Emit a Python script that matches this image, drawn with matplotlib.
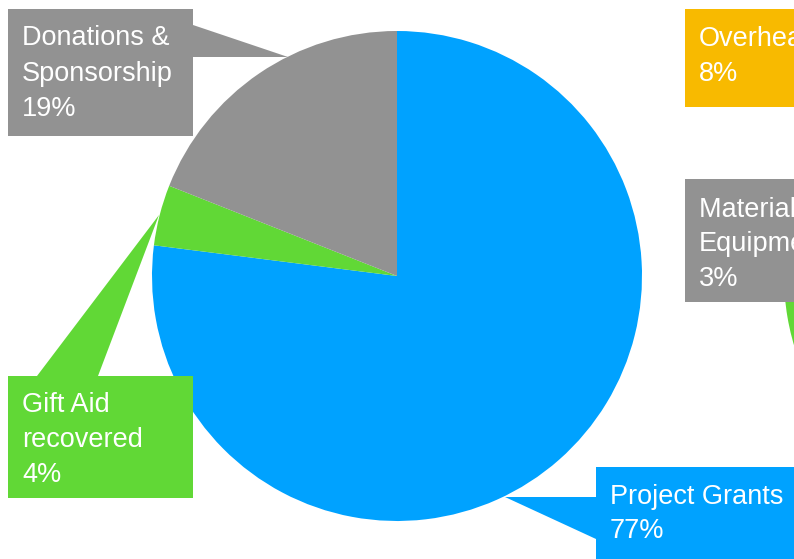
import matplotlib
matplotlib.use("Agg")
import matplotlib.pyplot as plt
from matplotlib.patches import Rectangle, Polygon

# ---- data ----
income_labels = [["Project Grants"], ["Gift Aid", "recovered"], ["Donations &", "Sponsorship"]]
income_values = [77, 4, 19]
income_colors = ["#00A2FF", "#61D836", "#929292"]

spend_labels = [["Overheads"], ["Materials &", "Equipment"]]
spend_values = [8, 3]
spend_colors = ["#F8BA00", "#929292"]
spend_rest_value = 89          # remaining (visible only as green edge)
spend_rest_color = "#61D836"

# ---- layout (pixel coordinates, y downward) ----
W, H = 794, 559
fig = plt.figure(figsize=(W / 100, H / 100), dpi=100)
ax = fig.add_axes([0, 0, 1, 1])

R = 245
ax.pie(income_values, colors=income_colors, startangle=270, counterclock=True,
       center=(397, 276), radius=R, wedgeprops=dict(linewidth=0))
ax.pie([spend_rest_value] + spend_values, colors=[spend_rest_color] + spend_colors,
       startangle=270, counterclock=True, center=(1029, 276), radius=R,
       wedgeprops=dict(linewidth=0))

ax.set_xlim(0, W)
ax.set_ylim(H, 0)
ax.set_aspect("auto")
ax.axis("off")

FONT = dict(family=["Liberation Sans", "DejaVu Sans"], size=19.5, color="white")


def callout(box, pointer, tx, baselines, lines, color):
    x0, y0, x1, y1 = box
    ax.add_patch(Rectangle((x0, y0), x1 - x0, y1 - y0, facecolor=color,
                           edgecolor="none", zorder=3))
    if pointer is not None:
        ax.add_patch(Polygon(pointer, closed=True, facecolor=color,
                             edgecolor="none", zorder=3))
    for line, yb in zip(lines, baselines):
        ax.text(tx, yb, line, ha="left", va="baseline", zorder=4, **FONT)


# income callouts
callout((8, 9, 193, 136), [(193, 25), (193, 57), (288, 57)], 22, [45, 81, 116],
        income_labels[2] + [f"{income_values[2]}%"], income_colors[2])
callout((8, 376, 193, 498), [(37, 376), (98, 376), (159, 215)], 22, [412, 447, 482],
        income_labels[1] + [f"{income_values[1]}%"], income_colors[1])
callout((596, 467, 800, 560), [(505, 497), (596, 497), (596, 539)], 610, [504, 538],
        income_labels[0] + [f"{income_values[0]}%"], income_colors[0])

# spending callouts (pointers off canvas)
callout((685, 9, 800, 107), None, 699, [46, 81],
        spend_labels[0] + [f"{spend_values[0]}%"], spend_colors[0])
callout((685, 179, 800, 302), None, 699, [217, 251, 286],
        spend_labels[1] + [f"{spend_values[1]}%"], spend_colors[1])

fig.savefig("out.png", dpi=100, facecolor="white")
